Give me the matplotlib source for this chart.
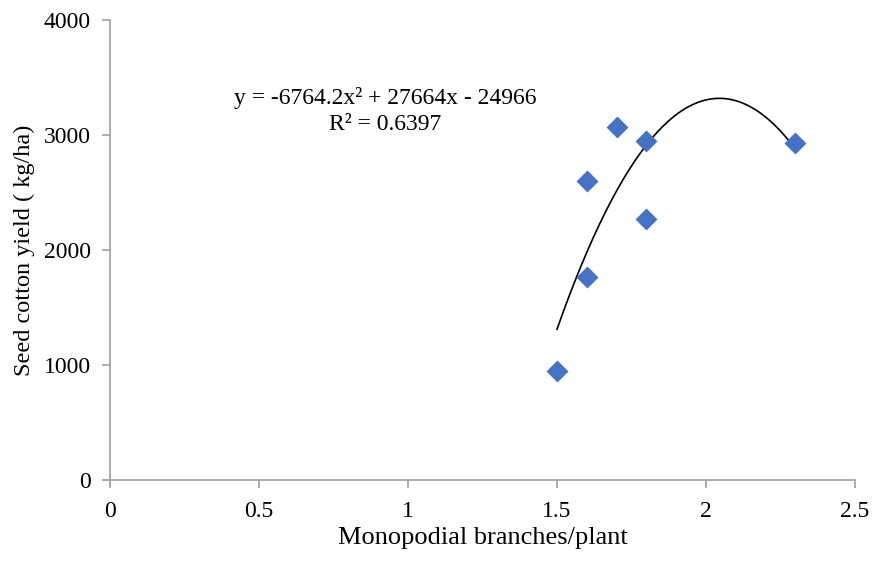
import numpy as np
import matplotlib.pyplot as plt

plt.rcParams['font.family'] = ['Liberation Serif', 'DejaVu Serif']

x = [1.5, 1.6, 1.6, 1.7, 1.8, 1.8, 2.3]
y = [950, 1768, 2600, 3067, 2950, 2267, 2933]
coef = [-6764.2, 27664, -24966]

fig = plt.figure(figsize=(8.72, 5.61), dpi=100)
ax = fig.add_axes([110/872, 1-480/561, 745/872, 460/561])

xs = np.linspace(min(x), max(x), 200)
ax.plot(xs, np.polyval(coef, xs), color='black', lw=1.2, zorder=2)
ax.scatter(x, y, marker='D', s=125, color='#4472C4', zorder=3, linewidths=0)

ax.set_xlim(0, 2.5)
ax.set_ylim(0, 4000)
ax.set_xticks([0, 0.5, 1, 1.5, 2, 2.5])
ax.set_xticklabels(['0', '0.5', '1', '1.5', '2', '2.5'])
ax.set_yticks([0, 1000, 2000, 3000, 4000])

for s in ['top', 'right']:
    ax.spines[s].set_visible(False)
for s in ['left', 'bottom']:
    ax.spines[s].set_color('#a6a6a6')
    ax.spines[s].set_linewidth(1.3)
ax.tick_params(colors='#a6a6a6', labelcolor='black', labelsize=17, length=6, width=1.3)
ax.tick_params(axis='y', pad=8)
ax.tick_params(axis='x', pad=9)

ax.set_xlabel('Monopodial branches/plant', fontsize=19, labelpad=4)
ax.set_ylabel('Seed cotton yield ( kg/ha)', fontsize=17.5, labelpad=6)

ax.text(0.923, 3322, 'y = -6764.2x² + 27664x - 24966', ha='center', va='center', fontsize=17)
ax.text(0.923, 3087, 'R² = 0.6397', ha='center', va='center', fontsize=17)

fig.savefig('out.png', dpi=100)
